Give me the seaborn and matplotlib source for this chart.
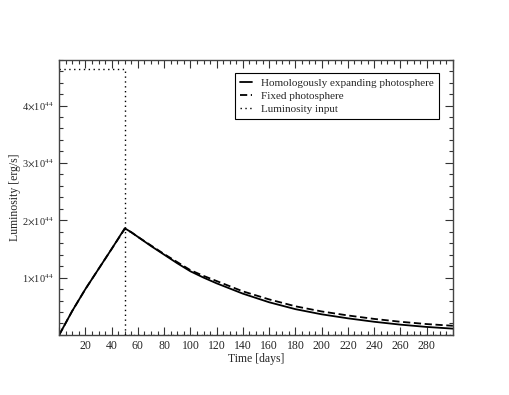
import numpy as np
import pandas as pd
import matplotlib
matplotlib.use("Agg")
import matplotlib.pyplot as plt
import seaborn as sns
from matplotlib.ticker import MultipleLocator, FuncFormatter

# Light curve values (units of 1e44 erg/s)
days = [0, 10, 20, 30, 40, 50, 55, 60, 70, 80, 90, 100, 110, 120, 140, 160, 180, 200, 220, 240, 260, 280, 300]
homologous = [0.0, 0.42, 0.80, 1.15, 1.50, 1.86, 1.79, 1.71, 1.55, 1.40, 1.25, 1.11, 1.00, 0.90, 0.72, 0.57, 0.45, 0.36, 0.29, 0.23, 0.18, 0.14, 0.11]
fixed = [0.0, 0.42, 0.80, 1.15, 1.50, 1.85, 1.79, 1.71, 1.56, 1.41, 1.27, 1.13, 1.03, 0.94, 0.76, 0.62, 0.50, 0.41, 0.34, 0.28, 0.23, 0.19, 0.16]

# Luminosity input: constant plateau until day 50
input_days = [0, 50, 50, 300]
input_lum = [4.64, 4.64, 0.0, 0.0]

df = pd.DataFrame({"t": days, "hom": np.array(homologous) * 1e44, "fix": np.array(fixed) * 1e44})
inp = pd.DataFrame({"t": input_days, "L": np.array(input_lum) * 1e44})

sns.set_style("ticks")
plt.rcParams['font.family'] = ['Liberation Serif', 'DejaVu Serif']
plt.rcParams['mathtext.fontset'] = 'stix'

fig, ax = plt.subplots(figsize=(5.1, 3.95), dpi=100)
fig.subplots_adjust(left=0.116, right=0.888, top=0.849, bottom=0.152)

sns.lineplot(data=df, x="t", y="hom", ax=ax, color="black", lw=1.3, estimator=None,
             label="Homologously expanding photosphere")
sns.lineplot(data=df, x="t", y="fix", ax=ax, color="black", lw=1.3, estimator=None,
             linestyle=(0, (4, 2)), label="Fixed photosphere")
sns.lineplot(data=inp, x="t", y="L", ax=ax, color="black", lw=1.0, estimator=None, sort=False,
             linestyle=(0, (1, 2.5)), label="Luminosity input")

ax.set_xlim(0, 300)
ax.set_ylim(0, 4.8e44)
ax.xaxis.set_major_locator(MultipleLocator(20))
ax.xaxis.set_minor_locator(MultipleLocator(5))
ax.yaxis.set_major_locator(MultipleLocator(1e44))
ax.yaxis.set_minor_locator(MultipleLocator(2e43))

def xfmt(v, pos):
    return "" if v <= 0 or v >= 300 else "%d" % v

def yfmt(v, pos):
    n = int(round(v / 1e44))
    return "" if n == 0 else r"%d$\times$10$^{44}$" % n

ax.xaxis.set_major_formatter(FuncFormatter(xfmt))
ax.yaxis.set_major_formatter(FuncFormatter(yfmt))
ax.tick_params(which="both", direction="in", top=True, right=True, color="#333333")
ax.tick_params(axis="x", labelsize=8.5)
ax.tick_params(axis="y", labelsize=7.5, pad=4)
ax.tick_params(which="major", length=6, width=0.8)
ax.tick_params(which="minor", length=3, width=0.8)
for s in ax.spines.values():
    s.set_linewidth(1.0)
    s.set_color("#444444")

ax.set_xlabel("Time [days]", fontsize=8.5, labelpad=1)
ax.set_ylabel("Luminosity [erg/s]", fontsize=8.5, labelpad=1)

leg = ax.legend(loc="upper right", bbox_to_anchor=(0.964, 0.951), borderaxespad=0, fontsize=8, frameon=True,
                fancybox=False, handlelength=1.1, borderpad=0.45, labelspacing=0.3, handletextpad=0.8)
leg.get_frame().set_edgecolor("black")
leg.get_frame().set_linewidth(0.8)
leg.get_frame().set_alpha(1)

fig.savefig("out.png", dpi=100)
